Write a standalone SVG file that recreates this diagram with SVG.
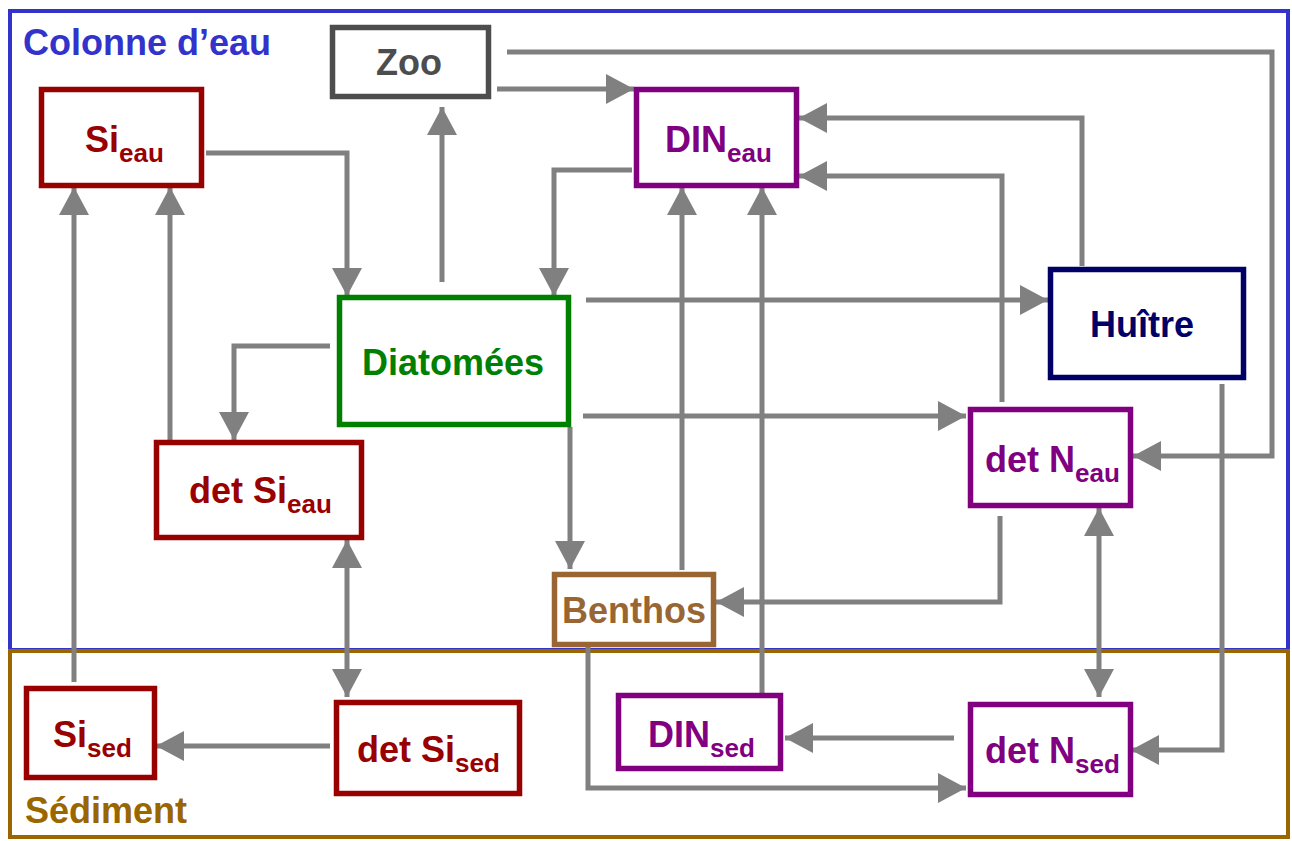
<svg xmlns="http://www.w3.org/2000/svg" width="1292" height="841" viewBox="0 0 1292 841">
<style>
  text { font-family: "Liberation Sans", Arial, sans-serif; font-weight: bold; font-size: 36px; }
  .sub { font-size: 26px; }
  .node { fill: #ffffff; stroke-width: 5.5; }
  .red { stroke: #990000; } .tred { fill: #990000; }
  .pur { stroke: #800080; } .tpur { fill: #800080; }
  .conn { fill: none; stroke: #808080; stroke-width: 5; }
</style>
<defs>
  <marker id="ah" markerUnits="userSpaceOnUse" markerWidth="28" markerHeight="30" refX="28" refY="15" orient="auto-start-reverse">
    <path d="M0,0 L28,15 L0,30 z" fill="#808080"/>
  </marker>
</defs>
<rect x="0" y="0" width="1292" height="841" fill="#ffffff"/>
<g id="zones">
  <rect x="10" y="11" width="1278" height="639" fill="none" stroke="#3333cc" stroke-width="4"/>
  <rect x="10" y="651" width="1278" height="186" fill="none" stroke="#996600" stroke-width="4"/>
  <text x="23" y="55" fill="#3333cc" font-size="37">Colonne d’eau</text>
  <text x="25" y="823" fill="#996600" font-size="37.5">Sédiment</text>
</g>
<g id="connectors">
  <path class="conn" d="M507,52 H1272 V456 H1133" marker-end="url(#ah)"/>
  <path class="conn" d="M497,89 H634" marker-end="url(#ah)"/>
  <path class="conn" d="M206,153 H347 V296" marker-end="url(#ah)"/>
  <path class="conn" d="M442,282 V107" marker-end="url(#ah)"/>
  <path class="conn" d="M632,170 H554 V296" marker-end="url(#ah)"/>
  <path class="conn" d="M1082,266 V118 H799" marker-end="url(#ah)"/>
  <path class="conn" d="M1002,402 V176 H799" marker-end="url(#ah)"/>
  <path class="conn" d="M586,300 H1048" marker-end="url(#ah)"/>
  <path class="conn" d="M682,570 V187" marker-end="url(#ah)"/>
  <path class="conn" d="M762,697 V187" marker-end="url(#ah)"/>
  <path class="conn" d="M330,346 H234 V440" marker-end="url(#ah)"/>
  <path class="conn" d="M170,442 V187" marker-end="url(#ah)"/>
  <path class="conn" d="M74,682 V187" marker-end="url(#ah)"/>
  <path class="conn" d="M347,540 V697" marker-start="url(#ah)" marker-end="url(#ah)"/>
  <path class="conn" d="M570,427 V569" marker-end="url(#ah)"/>
  <path class="conn" d="M583,416 H966" marker-end="url(#ah)"/>
  <path class="conn" d="M1000,516 V602 H716" marker-end="url(#ah)"/>
  <path class="conn" d="M1099,508 V697" marker-start="url(#ah)" marker-end="url(#ah)"/>
  <path class="conn" d="M1222,384 V750 H1131" marker-end="url(#ah)"/>
  <path class="conn" d="M330,746 H156" marker-end="url(#ah)"/>
  <path class="conn" d="M954,738 H785" marker-end="url(#ah)"/>
  <path class="conn" d="M588,647 V788 H966" marker-end="url(#ah)"/>
</g>
<g id="zoo">
  <rect class="node" x="332.5" y="27.5" width="156" height="69" stroke="#4d4d4d"/>
  <text x="376" y="75" fill="#4d4d4d">Zoo</text>
</g>
<g id="si-eau">
  <rect class="node red" x="41.5" y="89.5" width="160" height="96"/>
  <text x="85" y="152" class="tred">Si<tspan class="sub" dy="10">eau</tspan></text>
</g>
<g id="din-eau">
  <rect class="node pur" x="636.5" y="89.5" width="160" height="96"/>
  <text x="665" y="152" class="tpur">DIN<tspan class="sub" dy="10">eau</tspan></text>
</g>
<g id="diatomees">
  <rect class="node" x="339.5" y="297.5" width="229" height="127" stroke="#008000"/>
  <text x="362" y="375" fill="#008000">Diatomées</text>
</g>
<g id="huitre">
  <rect class="node" x="1050.5" y="269.5" width="193" height="108" stroke="#000066"/>
  <text x="1090" y="337" fill="#000066">Huître</text>
</g>
<g id="det-si-eau">
  <rect class="node red" x="156.5" y="442.5" width="205" height="95"/>
  <text x="189" y="503" class="tred">det Si<tspan class="sub" dy="10">eau</tspan></text>
</g>
<g id="det-n-eau">
  <rect class="node pur" x="970.5" y="409.5" width="160" height="96"/>
  <text x="985" y="472" class="tpur">det N<tspan class="sub" dy="10">eau</tspan></text>
</g>
<g id="benthos">
  <rect class="node" x="554.5" y="574.5" width="159" height="70" stroke="#996633"/>
  <text x="562" y="623" fill="#996633">Benthos</text>
</g>
<g id="si-sed">
  <rect class="node red" x="26.5" y="688.5" width="128" height="89"/>
  <text x="53" y="747" class="tred">Si<tspan class="sub" dy="10">sed</tspan></text>
</g>
<g id="det-si-sed">
  <rect class="node red" x="336.5" y="702.5" width="183" height="91"/>
  <text x="357" y="762" class="tred">det Si<tspan class="sub" dy="10">sed</tspan></text>
</g>
<g id="din-sed">
  <rect class="node pur" x="618.5" y="695.5" width="162" height="73"/>
  <text x="648" y="747" class="tpur">DIN<tspan class="sub" dy="10">sed</tspan></text>
</g>
<g id="det-n-sed">
  <rect class="node pur" x="970.5" y="704.5" width="160" height="90"/>
  <text x="985" y="763" class="tpur">det N<tspan class="sub" dy="10">sed</tspan></text>
</g>
</svg>
